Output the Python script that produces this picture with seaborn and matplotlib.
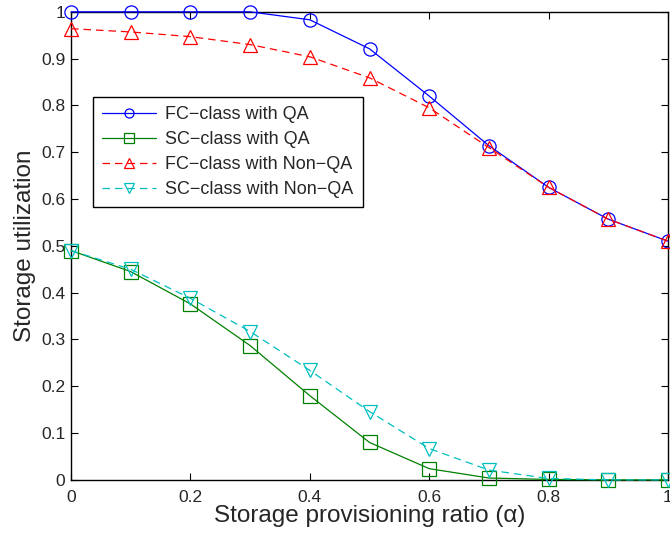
import matplotlib
matplotlib.use("Agg")
import matplotlib.pyplot as plt
import seaborn as sns
import numpy as np

alpha = [0.0, 0.1, 0.2, 0.3, 0.4, 0.5, 0.6, 0.7, 0.8, 0.9, 1.0]
fc_qa = [1.0, 1.0, 1.0, 1.0, 0.983, 0.921, 0.820, 0.714, 0.625, 0.557, 0.510]
sc_qa = [0.490, 0.445, 0.376, 0.287, 0.180, 0.080, 0.024, 0.004, 0.001, 0.0, 0.0]
fc_nonqa = [0.964, 0.957, 0.947, 0.930, 0.904, 0.859, 0.795, 0.710, 0.625, 0.557, 0.510]
sc_nonqa = [0.490, 0.450, 0.388, 0.317, 0.234, 0.146, 0.067, 0.021, 0.003, 0.0, 0.0]

labels = ["FC\u2212class with QA", "SC\u2212class with QA",
          "FC\u2212class with Non\u2212QA", "SC\u2212class with Non\u2212QA"]
xticks = [0, 0.2, 0.4, 0.6, 0.8, 1]
xticklabels = ["0", "0.2", "0.4", "0.6", "0.8", "1"]
yticks = [0, 0.1, 0.2, 0.3, 0.4, 0.5, 0.6, 0.7, 0.8, 0.9, 1]
yticklabels = ["0", "0.1", "0.2", "0.3", "0.4", "0.5", "0.6", "0.7", "0.8", "0.9", "1"]

sns.set_style("white")
plt.rcParams['font.family'] = ['Liberation Sans', 'DejaVu Sans']

fig = plt.figure(figsize=(6.7, 5.38), dpi=100)
ax = fig.add_axes([0.106, 0.108, 0.891, 0.870])

series = [
    (fc_qa, "#0000ff", "o", "-"),
    (sc_qa, "#008000", "s", "-"),
    (fc_nonqa, "#ff0000", "^", (0, (6, 4))),
    (sc_nonqa, "#00bfbf", "v", (0, (6, 4))),
]
for (vals, color, marker, ls), lab in zip(series, labels):
    sns.lineplot(x=alpha, y=vals, ax=ax, color=color, marker=marker,
                 markersize=9.5, markerfacecolor="none", markeredgecolor=color,
                 markeredgewidth=0.9, linewidth=0.9, linestyle=ls, label=lab,
                 clip_on=False, zorder=3)

txt = "#262626"
ax.set_xlim(0, 1)
ax.set_ylim(0, 1)
ax.set_xticks(xticks)
ax.set_xticklabels(xticklabels)
ax.set_yticks(yticks)
ax.set_yticklabels(yticklabels)
ax.tick_params(direction="in", length=5, width=0.8, labelsize=12.5, top=True, right=True,
               bottom=True, left=True, color="black", labelcolor=txt)
ax.tick_params(axis="x", pad=7)
ax.tick_params(axis="y", pad=4)
for s in ax.spines.values():
    s.set_visible(True)
    s.set_color("black")
    s.set_linewidth(1.0)
ax.set_xlabel("Storage provisioning ratio (\u03b1)", fontsize=17.5, labelpad=0, color=txt)
ax.set_ylabel("Storage utilization", fontsize=17.5, labelpad=4, color=txt)

leg = ax.legend(loc="upper left", bbox_to_anchor=(0.037, 0.818), fontsize=13,
                frameon=True, fancybox=False, edgecolor="black", framealpha=1,
                borderpad=0.5, labelspacing=0.45, handlelength=3.0, handletextpad=0.5,
                borderaxespad=0)
leg.get_frame().set_linewidth(1.0)
for t in leg.get_texts():
    t.set_color(txt)
for h in leg.legend_handles:
    h.set_markersize(6.5)

fig.savefig("out.png", dpi=100)
